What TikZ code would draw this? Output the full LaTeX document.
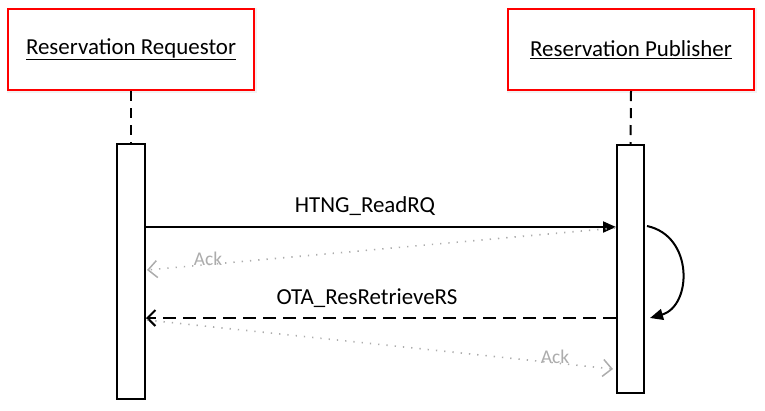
\documentclass[tikz,border=0pt]{standalone}
\usepackage{fontspec}
\setmainfont{Carlito}
\usetikzlibrary{arrows.meta,calc}
\tikzset{
  actor/.style={draw=red, line width=2bp, fill=white, minimum width=246bp, minimum height=81bp, inner sep=0pt, font=\fontsize{23}{27}\selectfont},
  shadowbox/.style={fill=black!5, draw=none, minimum width=250bp, minimum height=85bp},
  activation/.style={draw=black, line width=2bp, fill=white, inner sep=0pt},
  lifeline/.style={line width=2bp, dash pattern=on 10bp off 7bp},
  msg/.style={line width=2bp, -{Triangle[length=13bp,width=11bp]}},
  reply/.style={line width=2bp, dash pattern=on 13bp off 7bp, -{Straight Barb[length=8bp,width=16bp,line width=2bp]}},
  ack/.style={gray!65, line width=1.6bp, dash pattern=on 1.3bp off 7bp, -{Straight Barb[length=9bp,width=17bp,line width=1.5bp]}},
  msglabel/.style={font=\fontsize{23}{27}\selectfont, inner sep=0pt},
  acklabel/.style={font=\fontsize{19.5}{23}\selectfont, text=gray!65, inner sep=0pt},
}
\begin{document}
\begin{tikzpicture}[x=1bp,y=-1bp]
\useasboundingbox (0,0) rectangle (765,410);
% shadows
\node[shadowbox] (shL) at (132,50.5) {};
\node[shadowbox] (shR) at (632,50.5) {};
% actors
\node[actor] (reqbox) at (131,49.5) {\underline{Reservation Requestor}};
\node[actor] (pubbox) at (631,49.5) {\underline{Reservation Publisher}};
% activations
\node[activation, minimum width=28bp, minimum height=255bp] (actL) at (131,271.5) {};
\node[activation, minimum width=27bp, minimum height=248bp] (actR) at (630.5,269) {};
% lifelines
\draw[lifeline] (reqbox.south) -- (actL.north);
\draw[lifeline] (pubbox.south) -- (actR.north);
% coordinates
\coordinate (a1s) at (615,228);
\coordinate (a1e) at (147,270);
\coordinate (a2s) at (147,320);
\coordinate (a2e) at (613,369);
\coordinate (ss) at (647,226);
\coordinate (se) at (650,318);
% messages
\draw[msg] (actL.east |- 0,227) -- (actR.west |- 0,227);
\node[msglabel] (l1) at (365,206) {HTNG\_ReadRQ};
\draw[ack] (a1s) -- (a1e);
\node[acklabel] (k1) at (208,259) {Ack};
\draw[reply] (actR.west |- 0,318) -- (actL.east |- 0,318);
\node[msglabel] (l2) at (367,298) {OTA\_ResRetrieveRS};
\draw[ack] (a2s) -- (a2e);
\node[acklabel] (k2) at (555,357) {Ack};
\draw[msg] (ss) .. controls (694,236) and (692,306) .. (se);
\end{tikzpicture}
\end{document}
